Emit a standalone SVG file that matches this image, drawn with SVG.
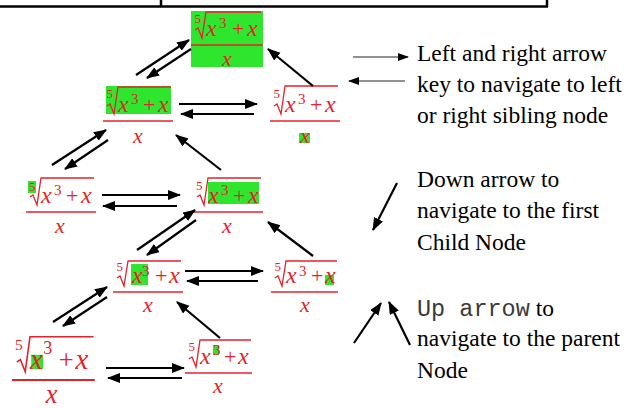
<svg xmlns="http://www.w3.org/2000/svg" width="629" height="408" viewBox="0 0 629 408">
<style>
.m{font-family:"Liberation Serif","Times New Roman",serif;fill:#e5222c}
.xi{font-style:italic;font-size:24px}
.sup{font-size:15px}
.idx{font-size:13px}
.pl{font-size:22px}
.dn{font-style:italic;font-size:22px;text-anchor:middle}
.bar{stroke:#e5222c;stroke-width:1.5}
.rad{fill:none;stroke:#e5222c;stroke-width:1.3}
.hl{fill:#2ee62e}
.c{stroke:#000;stroke-width:2.2;fill:none;marker-end:url(#ah)}
.ct{stroke:#222;stroke-width:1.1;fill:none;marker-end:url(#ahs)}
.lg{font-family:"Liberation Serif","Times New Roman",serif;font-size:23.5px;fill:#000}
.mono{font-family:"Liberation Mono","Courier New",monospace;fill:#3a3a3a}
.tb{stroke:#000;stroke-width:2.5}
</style>
<defs>
<marker id="ah" markerUnits="userSpaceOnUse" markerWidth="14" markerHeight="12" refX="12" refY="5" orient="auto">
<path d="M0,0 L13,5 L0,10 Z" fill="#000"/>
</marker>
<marker id="ahs" markerUnits="userSpaceOnUse" markerWidth="12" markerHeight="10" refX="10" refY="4" orient="auto">
<path d="M0,0 L11,4 L0,8 Z" fill="#000"/>
</marker>
</defs>
<rect width="629" height="408" fill="#fff"/>
<g id="table">
<line class="tb" x1="0" y1="6.5" x2="548" y2="6.5"/>
<line class="tb" x1="161" y1="0" x2="161" y2="7"/>
<line class="tb" x1="547" y1="0" x2="547" y2="7"/>
</g>
<g id="n1" transform="translate(191,45)">
<rect class="hl" x="0" y="-34" width="72" height="56"/>
<line class="bar" x1="0" y1="0" x2="72" y2="0"/>
<path class="rad" d="M4,-15 L7,-17 L11,-7 L15,-33 H70"/>
<text class="m idx" x="3.5" y="-22">5</text>
<text class="m xi" x="15" y="-9">x</text>
<text class="m sup" x="28" y="-17">3</text>
<text class="m pl" x="41" y="-9">+</text>
<text class="m xi" x="56" y="-9">x</text>
<text class="m dn" x="36" y="21">x</text>
</g>
<g id="n2" transform="translate(103,121)">
<rect class="hl" x="3" y="-35" width="65" height="28"/>
<line class="bar" x1="0" y1="0" x2="70" y2="0"/>
<path class="rad" d="M4,-15 L7,-17 L11,-7 L15,-34 H68"/>
<text class="m idx" x="3.5" y="-23">5</text>
<text class="m xi" x="15" y="-9">x</text>
<text class="m sup" x="28" y="-17">3</text>
<text class="m pl" x="40" y="-9">+</text>
<text class="m xi" x="55" y="-9">x</text>
<text class="m dn" x="35" y="22">x</text>
</g>
<g id="n3" transform="translate(270,121)">
<rect class="hl" x="29" y="12" width="11" height="10"/>
<line class="bar" x1="0" y1="0" x2="70" y2="0"/>
<path class="rad" d="M4,-15 L7,-17 L11,-7 L15,-35 H68"/>
<text class="m idx" x="3.5" y="-23">5</text>
<text class="m xi" x="15" y="-9">x</text>
<text class="m sup" x="28" y="-17">3</text>
<text class="m pl" x="40" y="-9">+</text>
<text class="m xi" x="55" y="-9">x</text>
<text class="m dn" x="35" y="22">x</text>
</g>
<g id="n4" transform="translate(26,212)">
<rect class="hl" x="2" y="-31" width="8" height="12"/>
<line class="bar" x1="0" y1="0" x2="70" y2="0"/>
<path class="rad" d="M4,-15 L7,-17 L11,-7 L15,-34 H68"/>
<text class="m idx" x="3" y="-21">5</text>
<text class="m xi" x="15" y="-9">x</text>
<text class="m sup" x="28" y="-17">3</text>
<text class="m pl" x="40" y="-9">+</text>
<text class="m xi" x="55" y="-9">x</text>
<text class="m dn" x="34" y="21">x</text>
</g>
<g id="n5" transform="translate(193,212)">
<rect class="hl" x="15" y="-30" width="51" height="22"/>
<line class="bar" x1="0" y1="0" x2="70" y2="0"/>
<path class="rad" d="M4,-15 L7,-17 L11,-7 L15,-34 H68"/>
<text class="m idx" x="3" y="-22">5</text>
<text class="m xi" x="15" y="-9">x</text>
<text class="m sup" x="28" y="-17">3</text>
<text class="m pl" x="40" y="-9">+</text>
<text class="m xi" x="55" y="-9">x</text>
<text class="m dn" x="34" y="21">x</text>
</g>
<g id="n6" transform="translate(113,292)">
<rect class="hl" x="18" y="-28" width="17" height="21"/>
<line class="bar" x1="0" y1="0" x2="70" y2="0"/>
<path class="rad" d="M4,-14 L7,-16 L11,-6 L15,-31 H68"/>
<text class="m idx" x="3.5" y="-21">5</text>
<text class="m xi" x="19" y="-9">x</text>
<text class="m sup" x="29" y="-16">3</text>
<text class="m pl" x="42" y="-9">+</text>
<text class="m xi" x="56" y="-9">x</text>
<text class="m dn" x="35" y="20">x</text>
</g>
<g id="n7" transform="translate(271,292)">
<rect class="hl" x="54" y="-17" width="9" height="10"/>
<line class="bar" x1="0" y1="0" x2="67" y2="0"/>
<path class="rad" d="M4,-14 L7,-16 L11,-6 L15,-31 H66"/>
<text class="m idx" x="3.5" y="-21">5</text>
<text class="m xi" x="15" y="-9">x</text>
<text class="m sup" x="28" y="-16">3</text>
<text class="m pl" x="40" y="-9">+</text>
<text class="m xi" x="54" y="-9">x</text>
<text class="m dn" x="34" y="20">x</text>
</g>
<g id="n8" transform="translate(12,380) scale(1.2)">
<rect class="hl" x="16" y="-21" width="10" height="12"/>
<line class="bar" x1="0" y1="0" x2="69" y2="0"/>
<path class="rad" d="M4,-15 L7,-17 L11,-7 L15,-36 H68"/>
<text class="m idx" x="2.5" y="-25">5</text>
<text class="m xi" x="15" y="-9">x</text>
<text class="m sup" x="26" y="-22">3</text>
<text class="m pl" x="39" y="-9">+</text>
<text class="m xi" x="53" y="-9">x</text>
<text class="m dn" x="33" y="19">x</text>
</g>
<g id="n9" transform="translate(185,373)">
<rect class="hl" x="28" y="-28" width="6" height="10"/>
<line class="bar" x1="0" y1="0" x2="67" y2="0"/>
<path class="rad" d="M4,-14 L7,-16 L11,-6 L15,-33 H66"/>
<text class="m idx" x="3.5" y="-22">5</text>
<text class="m xi" x="15" y="-9">x</text>
<text class="m sup" x="28" y="-18">3</text>
<text class="m pl" x="39" y="-9">+</text>
<text class="m xi" x="53" y="-9">x</text>
<text class="m dn" x="33" y="20">x</text>
</g>
<g id="connectors">
<line class="c" x1="136" y1="75" x2="189" y2="40"/>
<line class="c" x1="191" y1="49" x2="147" y2="78"/>
<line class="c" x1="313" y1="86" x2="268" y2="49"/>
<line class="c" x1="179" y1="104" x2="257" y2="104"/>
<line class="c" x1="254" y1="114" x2="181" y2="114"/>
<line class="c" x1="221" y1="170" x2="176" y2="135"/>
<line class="c" x1="52" y1="165" x2="106" y2="130"/>
<line class="c" x1="108" y1="140" x2="65" y2="169"/>
<line class="c" x1="102" y1="195" x2="180" y2="195"/>
<line class="c" x1="177" y1="206" x2="103" y2="206"/>
<line class="c" x1="313" y1="256" x2="268" y2="222"/>
<line class="c" x1="137" y1="250" x2="195" y2="210"/>
<line class="c" x1="196" y1="220" x2="147" y2="255"/>
<line class="c" x1="185" y1="271" x2="263" y2="271"/>
<line class="c" x1="258" y1="281" x2="187" y2="281"/>
<line class="c" x1="53" y1="322" x2="107" y2="287"/>
<line class="c" x1="107" y1="297" x2="63" y2="326"/>
<line class="c" x1="220" y1="338" x2="177" y2="302"/>
<line class="c" x1="106" y1="368" x2="184" y2="368"/>
<line class="c" x1="182" y1="378" x2="108" y2="378"/>
</g>
<g id="legend">
<line class="ct" x1="353" y1="57" x2="408" y2="57"/>
<line class="ct" x1="405" y1="81" x2="349" y2="81"/>
<line class="c" x1="397" y1="183" x2="373" y2="230"/>
<line class="c" x1="354" y1="343" x2="381" y2="303"/>
<line class="c" x1="410" y1="345" x2="389" y2="302"/>
<text class="lg" x="417" y="61">Left and right arrow</text>
<text class="lg" x="417" y="92">key to navigate to left</text>
<text class="lg" x="417" y="123">or right sibling node</text>
<text class="lg" x="417" y="187">Down arrow to</text>
<text class="lg" x="417" y="218">navigate to the first</text>
<text class="lg" x="417" y="250">Child Node</text>
<text class="lg" x="417" y="316"><tspan class="mono">Up arrow</tspan> to</text>
<text class="lg" x="417" y="346">navigate to the parent</text>
<text class="lg" x="417" y="378">Node</text>
</g>
</svg>
